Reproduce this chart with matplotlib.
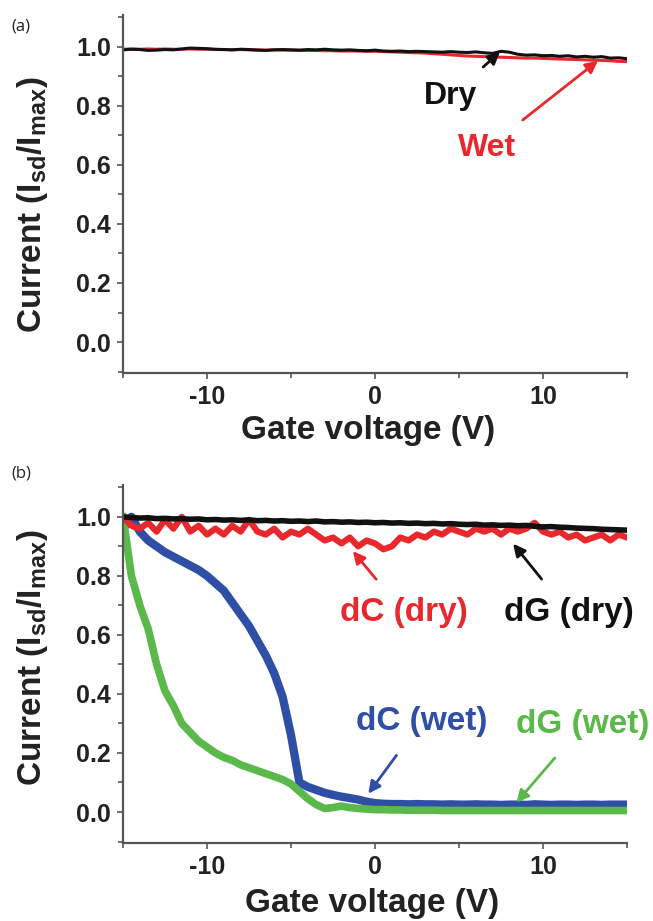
import numpy as np
import matplotlib
matplotlib.use("Agg")
import matplotlib.pyplot as plt
from matplotlib.ticker import MultipleLocator

# gate voltage grid (V), 0.5 V steps from -15 to 15
gate_v = np.arange(-15, 15.01, 0.5)

# panel (a): normalised current, dry and wet
a_dry = [0.990, 0.992, 0.991, 0.988, 0.989, 0.991, 0.990, 0.993, 0.996, 0.995,
         0.994, 0.992, 0.991, 0.990, 0.992, 0.991, 0.989, 0.988, 0.990, 0.991,
         0.990, 0.989, 0.991, 0.990, 0.992, 0.990, 0.989, 0.990, 0.988, 0.987,
         0.989, 0.986, 0.985, 0.986, 0.984, 0.985, 0.984, 0.983, 0.982, 0.984,
         0.982, 0.981, 0.983, 0.980, 0.978, 0.985, 0.982, 0.975, 0.972, 0.973,
         0.970, 0.971, 0.968, 0.970, 0.966, 0.968, 0.965, 0.967, 0.962, 0.963,
         0.960]
a_wet = [0.992, 0.993, 0.992, 0.993, 0.992, 0.993, 0.992, 0.992, 0.993, 0.992,
         0.992, 0.991, 0.991, 0.990, 0.991, 0.990, 0.990, 0.989, 0.990, 0.989,
         0.989, 0.988, 0.988, 0.988, 0.987, 0.987, 0.986, 0.986, 0.986, 0.985,
         0.985, 0.984, 0.983, 0.982, 0.981, 0.980, 0.979, 0.977, 0.975, 0.973,
         0.971, 0.969, 0.968, 0.967, 0.966, 0.965, 0.964, 0.963, 0.962, 0.962,
         0.961, 0.960, 0.959, 0.958, 0.957, 0.956, 0.955, 0.954, 0.953, 0.951,
         0.950]

# panel (b): dG / dC devices, dry and wet
dg_dry = [1.000, 0.998, 0.996, 0.997, 0.994, 0.995, 0.993, 0.994, 0.992, 0.993,
          0.990, 0.991, 0.989, 0.990, 0.988, 0.990, 0.987, 0.988, 0.986, 0.987,
          0.985, 0.986, 0.984, 0.986, 0.983, 0.984, 0.982, 0.983, 0.981, 0.982,
          0.980, 0.981, 0.979, 0.980, 0.978, 0.979, 0.977, 0.978, 0.976, 0.977,
          0.975, 0.974, 0.975, 0.972, 0.973, 0.971, 0.972, 0.970, 0.971, 0.968,
          0.966, 0.967, 0.965, 0.964, 0.962, 0.961, 0.960, 0.958, 0.957, 0.956,
          0.955]
dc_dry = [1.00, 0.97, 0.96, 0.98, 0.95, 0.99, 0.96, 1.00, 0.95, 0.97,
          0.94, 0.96, 0.94, 0.97, 0.95, 0.99, 0.95, 0.94, 0.96, 0.93,
          0.95, 0.94, 0.96, 0.94, 0.92, 0.93, 0.91, 0.93, 0.90, 0.92,
          0.91, 0.89, 0.90, 0.93, 0.92, 0.94, 0.93, 0.95, 0.94, 0.96,
          0.95, 0.94, 0.96, 0.95, 0.96, 0.94, 0.96, 0.95, 0.96, 0.98,
          0.95, 0.94, 0.95, 0.93, 0.94, 0.92, 0.93, 0.94, 0.92, 0.94,
          0.93]
dc_wet = [0.96, 1.00, 0.95, 0.92, 0.90, 0.88, 0.865, 0.85, 0.835, 0.82,
          0.80, 0.775, 0.75, 0.71, 0.67, 0.63, 0.58, 0.53, 0.47, 0.39,
          0.26, 0.10, 0.085, 0.075, 0.065, 0.058, 0.052, 0.047, 0.042, 0.035,
          0.030, 0.028, 0.027, 0.027, 0.026, 0.027, 0.026, 0.026, 0.025, 0.026,
          0.025, 0.025, 0.026, 0.025, 0.025, 0.024, 0.025, 0.025, 0.024, 0.026,
          0.025, 0.024, 0.025, 0.025, 0.024, 0.025, 0.025, 0.024, 0.025, 0.025,
          0.025]
dg_wet = [1.00, 0.80, 0.70, 0.62, 0.50, 0.41, 0.36, 0.30, 0.27, 0.24,
          0.22, 0.20, 0.185, 0.175, 0.16, 0.15, 0.14, 0.13, 0.12, 0.11,
          0.095, 0.07, 0.045, 0.025, 0.012, 0.015, 0.020, 0.015, 0.012, 0.010,
          0.008, 0.008, 0.007, 0.007, 0.006, 0.006, 0.006, 0.006, 0.005, 0.005,
          0.005, 0.005, 0.005, 0.005, 0.005, 0.005, 0.005, 0.005, 0.005, 0.005,
          0.005, 0.005, 0.005, 0.005, 0.005, 0.005, 0.005, 0.005, 0.005, 0.005,
          0.005]

RED = "#e8282c"
BLUE = "#2f4ea6"
GREEN = "#5bb84a"
BLACK = "#111111"

plt.rcParams["font.family"] = ["Liberation Sans", "DejaVu Sans"]
plt.rcParams["font.weight"] = "bold"
plt.rcParams["axes.labelweight"] = "bold"
plt.rcParams["axes.unicode_minus"] = False
plt.rcParams["mathtext.fontset"] = "custom"
plt.rcParams["mathtext.rm"] = "Liberation Sans:bold"
plt.rcParams["mathtext.it"] = "Liberation Sans:bold"
plt.rcParams["mathtext.bf"] = "Liberation Sans:bold"

fig = plt.figure(figsize=(6.53, 9.21), dpi=100)
ax_a = fig.add_axes([0.1884, 0.595, 0.7718, 0.3887])
ax_b = fig.add_axes([0.1884, 0.0847, 0.7718, 0.3887])


def style_axes(ax):
    ax.set_xlim(-15, 15)
    ax.set_ylim(-0.105, 1.108)
    ax.xaxis.set_major_locator(MultipleLocator(10))
    ax.xaxis.set_minor_locator(MultipleLocator(5))
    ax.yaxis.set_major_locator(MultipleLocator(0.2))
    ax.yaxis.set_minor_locator(MultipleLocator(0.1))
    ax.yaxis.set_major_formatter(matplotlib.ticker.FormatStrFormatter("%.1f"))
    for s in ["top", "right"]:
        ax.spines[s].set_visible(False)
    for s in ["left", "bottom"]:
        ax.spines[s].set_color("#555555")
        ax.spines[s].set_linewidth(1.6)
    ax.tick_params(which="major", length=4.5, width=1.2, color="#555555",
                   labelsize=18, labelcolor="#222222", pad=4)
    ax.tick_params(which="minor", length=3.5, width=1.2, color="#555555")
    ax.set_xlabel("Gate voltage (V)", fontsize=24, color="#222222",
                  fontweight="bold")
    ax.set_ylabel(r"Current (I$_{sd}$/I$_{max}$)", fontsize=24,
                  color="#222222", fontweight="bold")


# panel (a)
style_axes(ax_a)
ax_a.plot(gate_v, a_wet, color=RED, lw=2.2)
ax_a.plot(gate_v, a_dry, color=BLACK, lw=2.2)
ax_a.xaxis.set_label_coords(0.486, -0.118)
ax_a.yaxis.set_label_coords(-0.145, 0.47)

ax_a.annotate("Dry", xy=(7.44, 0.983), xytext=(4.52, 0.834), color=BLACK,
              fontsize=23, ha="center", va="center",
              arrowprops=dict(arrowstyle="-|>", color=BLACK, lw=2,
                              mutation_scale=18, shrinkA=12, shrinkB=0))
ax_a.annotate("Wet", xy=(13.27, 0.953), xytext=(6.67, 0.657), color=RED,
              fontsize=23, ha="center", va="center",
              arrowprops=dict(arrowstyle="-|>", color=RED, lw=2,
                              mutation_scale=18, shrinkA=12, shrinkB=0))

# panel (b)
style_axes(ax_b)
ax_b.plot(gate_v, dc_wet, color=BLUE, lw=6)
ax_b.plot(gate_v, dg_wet, color=GREEN, lw=5.5)
ax_b.plot(gate_v, dc_dry, color=RED, lw=4.5)
ax_b.plot(gate_v, dg_dry, color=BLACK, lw=4)
ax_b.xaxis.set_label_coords(0.495, -0.125)
ax_b.yaxis.set_label_coords(-0.145, 0.517)

labels_b = [("dC (dry)", (1.71, 0.676), (-1.32, 0.884), RED),
            ("dG (dry)", (11.52, 0.676), (8.22, 0.909), BLACK),
            ("dC (wet)", (2.76, 0.307), (-0.40, 0.062), BLUE),
            ("dG (wet)", (12.39, 0.295), (8.42, 0.032), GREEN)]
for txt, pos, tip, col in labels_b:
    ax_b.annotate(txt, xy=tip, xytext=pos, color=col, fontsize=24,
                  ha="center", va="center", annotation_clip=False,
                  arrowprops=dict(arrowstyle="-|>", color=col, lw=2,
                                  mutation_scale=18, shrinkA=14, shrinkB=0))

fig.text(0.032, 0.971, "(a)", fontsize=12, fontweight="normal",
         family="Open Sans", ha="center", va="center", color="#222222")
fig.text(0.032, 0.486, "(b)", fontsize=12, fontweight="normal",
         family="Open Sans", ha="center", va="center", color="#222222")

fig.savefig("out.png", dpi=100)
